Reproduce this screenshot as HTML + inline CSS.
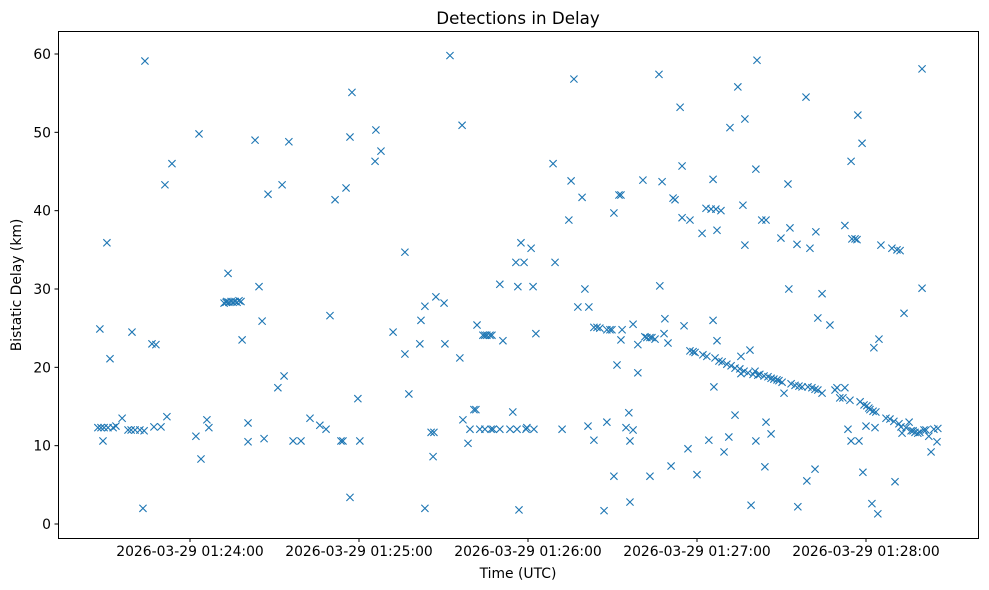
<!DOCTYPE html>
<html><head><meta charset="utf-8"><style>
html,body{margin:0;padding:0;background:#fff;}
svg{display:block;font-family:"DejaVu Sans","Liberation Sans",sans-serif;}
</style></head><body>
<svg id="chart" width="989" height="590" viewBox="0 0 989 590" xmlns="http://www.w3.org/2000/svg">
<rect width="989" height="590" fill="#fff"/>
<text x="518" y="24" font-size="16.7" text-anchor="middle" fill="#000">Detections in Delay</text>
<g id="marks"></g>
<rect x="58.5" y="31.5" width="920" height="507" fill="none" stroke="#000" stroke-width="1"/>
<g id="xaxis"></g>
<g id="yaxis"></g>
<text x="518" y="578" font-size="13.9" text-anchor="middle">Time (UTC)</text>
<text transform="translate(21,285) rotate(-90)" font-size="13.9" text-anchor="middle">Bistatic Delay (km)</text>
</svg>
<script>
// seconds since 2026-03-29 01:23:00 UTC
const times = [27.3,28.0,28.4,29.1,29.5,30.5,30.9,31.6,32.7,33.7,35.9,38.0,39.1,39.4,40.5,42.2,43.3,44.0,43.7,46.5,47.2,47.9,49.7,51.1,51.8,53.6,
62.1,63.2,63.9,66.0,66.7,72.1,72.8,73.5,73.1,73.8,74.6,75.3,76.0,76.7,77.4,78.1,78.5,80.6,80.6,83.1,84.5,85.6,86.3,87.7,91.2,92.7,93.4,95.1,96.6,99.4,
102.6,106.1,108.3,109.7,111.5,113.6,114.3,115.4,116.8,116.8,117.5,119.6,120.3,125.7,126.0,127.8,132.1,136.3,136.3,137.7,141.6,142.0,143.4,143.4,145.6,146.3,146.6,147.3,150.2,150.5,152.3,155.8,156.6,156.9,158.7,159.4,160.8,161.5,161.9,162.9,164.0,164.7,165.4,166.5,167.2,164.7,166.9,167.6,170.0,170.0,171.1,173.6,174.6,176.1,176.8,179.3,179.6,
175.7,176.4,177.5,178.6,181.1,181.8,182.8,182.1,188.9,189.6,192.1,194.5,195.3,196.3,197.7,199.2,200.2,201.3,201.6,203.4,203.4,204.5,205.5,207.0,208.0,208.0,209.1,209.8,210.5,210.5,211.6,212.3,213.0,213.0,213.4,214.8,215.8,216.2,216.2,217.3,217.3,219.0,219.0,220.8,221.5,222.2,223.3,224.0,225.1,223.3,226.5,226.8,227.6,228.3,228.6,229.7,230.8,231.5,232.2,234.0,234.7,234.7,235.4,236.8,237.5,237.5,238.6,239.3,240.0,241.8,242.1,243.2,243.5,244.2,245.0,245.7,245.7,246.0,246.4,246.7,247.1,247.1,247.8,248.5,248.9,249.6,250.6,251.3,251.7,252.1,253.5,253.5,254.5,255.2,255.6,255.6,256.3,256.7,257.0,257.0,258.1,258.8,259.2,259.9,260.6,260.9,260.9,261.3,261.6,262.3,263.0,263.8,264.1,264.5,264.5,265.2,266.3,266.3,267.3,268.4,269.1,269.8,270.2,270.9,272.3,272.6,273.0,273.4,274.8,275.5,275.8,276.2,277.3,278.7,279.0,279.4,280.1,280.8,281.9,281.9,282.2,282.9,282.9,284.4,284.4,287.2,289.0,289.7,290.7,291.8,292.5,292.5,293.6,294.3,294.7,294.7,295.0,296.1,296.8,297.1,297.5,297.9,298.6,298.9,299.3,300.0,300.3,301.0,301.4,302.1,302.5,302.8,303.2,303.5,304.2,304.6,305.3,307.1,308.5,309.2,309.9,310.3,311.0,311.7,312.1,312.4,312.8,313.5,314.2,315.3,316.0,316.7,317.4,318.4,319.1,319.9,319.9,320.6,321.3,322.3,323.1,324.1,325.2,325.5];
const delays = [12.3,24.9,12.3,10.6,12.3,35.9,12.3,21.1,12.3,12.5,13.5,12.0,12.0,24.5,12.0,12.0,2.0,59.1,11.9,23.0,12.4,22.9,12.4,43.3,13.7,46.0,
11.2,49.8,8.3,13.3,12.3,28.2,28.3,32.0,28.4,28.3,28.4,28.3,28.4,28.3,28.5,28.4,23.5,12.9,10.5,49.0,30.3,25.9,10.9,42.1,17.4,43.3,18.9,48.8,10.6,10.6,
13.5,12.6,12.1,26.6,41.4,10.6,10.6,42.9,3.4,49.4,55.1,16.0,10.6,46.3,50.3,47.6,24.5,34.7,21.7,16.6,23.0,26.0,2.0,27.8,11.7,8.6,11.7,29.0,28.2,23.0,59.8,21.2,50.9,13.3,10.3,12.1,14.6,14.6,25.4,12.1,24.1,24.1,24.1,24.1,24.1,12.1,12.1,12.1,12.1,30.6,23.4,12.1,14.3,12.1,1.8,12.1,12.3,
33.4,30.3,35.9,33.4,35.2,30.3,24.3,12.1,46.0,33.4,12.1,38.8,43.8,56.8,27.7,41.7,30.0,12.5,27.7,10.7,25.1,25.1,25.0,1.7,13.0,24.8,24.8,24.8,39.7,6.1,20.3,42.0,42.0,23.5,24.8,12.3,14.2,10.6,2.8,25.5,12.0,19.3,22.9,43.9,23.9,23.8,23.8,23.8,23.6,6.1,57.4,30.4,43.7,24.3,26.2,23.1,7.4,41.6,41.4,53.2,45.7,39.1,25.3,9.6,38.8,22.1,22.0,21.9,6.3,37.1,21.6,40.3,21.4,10.7,40.2,44.0,26.0,17.5,21.2,40.2,37.5,23.4,20.8,40.0,20.7,9.2,20.4,11.1,50.6,20.2,13.9,19.9,55.8,19.8,19.2,21.4,40.7,19.5,51.7,35.6,19.3,22.2,2.4,19.1,19.5,10.6,45.3,59.2,19.0,19.1,38.8,18.9,7.3,13.0,38.8,18.8,11.5,18.6,18.5,18.4,18.3,36.5,18.1,16.7,43.4,30.0,37.8,17.9,17.7,35.7,2.2,17.6,17.5,54.5,5.5,17.5,35.2,17.4,7.0,17.2,37.3,26.3,17.1,29.4,16.7,25.4,17.1,17.4,16.1,16.1,17.4,38.1,12.1,15.8,10.6,46.3,36.4,36.4,36.3,52.2,10.6,15.6,48.6,6.6,15.2,12.5,15.1,14.8,14.6,2.6,14.4,22.5,12.3,14.3,1.3,23.6,35.6,13.5,13.4,35.2,13.1,5.4,35.0,12.8,34.9,12.4,11.6,26.9,12.3,13.0,11.9,11.9,11.7,11.6,11.7,30.1,58.1,12.0,12.0,11.2,9.2,12.1,10.5,12.2];
const xTickValues = [60,120,180,240,300];
const xTickLabels = ["2026-03-29 01:24:00","2026-03-29 01:25:00","2026-03-29 01:26:00","2026-03-29 01:27:00","2026-03-29 01:28:00"];
const yTickValues = [0,10,20,30,40,50,60];

const NS = "http://www.w3.org/2000/svg";
function xScale(t){ return 21 + t * (169/60); }
function yScale(v){ return 524 - v * (470/60); }

const marks = document.getElementById('marks');
const n = Math.min(times.length, delays.length);
for (let i = 0; i < n; i++) {
  const cx = xScale(times[i]), cy = yScale(delays[i]), s = 3.6;
  const p = document.createElementNS(NS, 'path');
  p.setAttribute('d', `M${cx-s},${cy-s}L${cx+s},${cy+s}M${cx-s},${cy+s}L${cx+s},${cy-s}`);
  p.setAttribute('stroke', '#1f77b4');
  p.setAttribute('stroke-width', '1.1');
  p.setAttribute('fill', 'none');
  
  
  marks.appendChild(p);
}

const xaxis = document.getElementById('xaxis');
xTickValues.forEach((t, i) => {
  const x = xScale(t);
  const l = document.createElementNS(NS, 'line');
  l.setAttribute('x1', x); l.setAttribute('x2', x);
  l.setAttribute('y1', 538.5); l.setAttribute('y2', 542);
  l.setAttribute('stroke', '#000');
  
  
  xaxis.appendChild(l);
  const tx = document.createElementNS(NS, 'text');
  tx.setAttribute('x', x); tx.setAttribute('y', 556);
  tx.setAttribute('font-size', '13.9'); tx.setAttribute('text-anchor', 'middle');
  tx.textContent = xTickLabels[i];
  
  
  xaxis.appendChild(tx);
});

const yaxis = document.getElementById('yaxis');
yTickValues.forEach(v => {
  const y = yScale(v);
  const l = document.createElementNS(NS, 'line');
  l.setAttribute('x1', 54.5); l.setAttribute('x2', 58.5);
  l.setAttribute('y1', y); l.setAttribute('y2', y);
  l.setAttribute('stroke', '#000');
  
  
  yaxis.appendChild(l);
  const tx = document.createElementNS(NS, 'text');
  tx.setAttribute('x', 51); tx.setAttribute('y', y + 5);
  tx.setAttribute('font-size', '13.9'); tx.setAttribute('text-anchor', 'end');
  tx.textContent = String(v);
  
  
  yaxis.appendChild(tx);
});
</script>
</body></html>
